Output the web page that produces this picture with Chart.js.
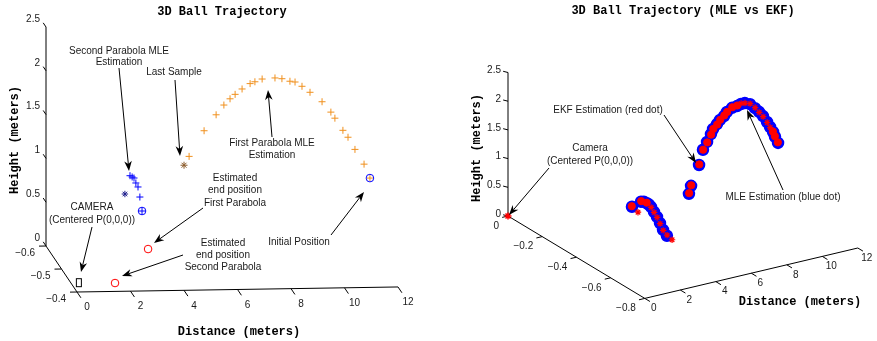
<!DOCTYPE html>
<html><head><meta charset="utf-8">
<script src="https://cdn.jsdelivr.net/npm/chart.js@4.4.0/dist/chart.umd.min.js"></script>
<style>html,body{margin:0;padding:0;background:#fff;overflow:hidden}#wrap{position:relative;width:877px;height:341px}</style>
</head><body><div id="wrap"><canvas id="c" width="877" height="341"></canvas></div>
<script>
// ================= DATA (distance m, depth m, height m) =================
// ---- Left plot: 3D Ball Trajectory ----
const distanceTicks = [0, 2, 4, 6, 8, 10, 12];
const heightTicks = [0, 0.5, 1, 1.5, 2, 2.5];
const leftDepthTicks = [-0.6, -0.5, -0.4];
const rightDepthTicks = [0, -0.2, -0.4, -0.6, -0.8];

const parabolaDepth = -0.55;
const firstParabolaDist   = [5.06,5.62,6.07,6.36,6.59,6.78,7.04,7.34,7.52,7.79,8.27,8.53,8.83,9.02,9.28,9.58,10.03,10.36,10.51,10.81,11.0,11.26,11.6];
const firstParabolaHeight = [1.13,1.42,1.60,1.71,1.78,1.83,1.89,1.95,1.97,2.00,2.01,2.00,1.97,1.96,1.91,1.84,1.73,1.61,1.54,1.40,1.32,1.18,1.01];
const initialDist = [11.82], initialHeight = [0.85];
const lastSampleDist = [4.87], lastSampleHeight = [1.03];
const secondParabolaDist   = [2.85,2.93,3.00,3.07,3.15,3.22];
const secondParabolaHeight = [0.92,0.905,0.893,0.836,0.79,0.675];
const secondStarDist = [2.66], secondStarHeight = [0.712];
const secondStartDist = [3.30], secondStartHeight = [0.515];
const endPosDist   = [3.70, 1.63];
const endPosDepth  = [-0.58, -0.436];
const endPosHeight = [0, 0];
const cameraLeft = {d: 0.30, p: -0.44, h: 0};

// ---- Right plot: MLE vs EKF ----
const trackDepth = -0.4;
const mleDist   = [6.91,7.13,7.36,7.58,7.70,7.92,8.09,8.32,8.48,8.77,9.05,9.27,9.49,9.78,10.06,10.29,10.51,10.74,10.91,11.08,11.19,11.36,6.46,6.34,3.13,3.64,3.80,3.97,4.08,4.20,4.37,4.54,4.71,4.88,5.10];
const mleHeight = [1.10,1.35,1.47,1.59,1.67,1.74,1.80,1.85,1.91,1.96,1.97,1.99,1.99,1.95,1.86,1.78,1.69,1.57,1.47,1.37,1.28,1.16,0.77,0.64,0.65,0.70,0.69,0.65,0.62,0.57,0.47,0.37,0.25,0.12,0.00];
const ekfDotDist   = [6.92,7.14,7.37,7.59,7.71,7.93,8.10,8.33,8.49,8.78,9.06,11.07,11.18,11.35,6.47,6.35,3.12,3.65,3.96];
const ekfDotHeight = [1.11,1.35,1.46,1.58,1.67,1.73,1.80,1.86,1.91,1.97,1.98,1.38,1.29,1.17,0.78,0.65,0.66,0.71,0.66];
const ekfStarDist   = [9.28,9.50,9.79,10.07,10.30,10.52,10.75,10.92,4.21,4.38,4.55,4.72,4.89,5.11,3.47,5.39];
const ekfStarHeight = [2.00,1.99,1.96,1.87,1.77,1.68,1.56,1.46,0.56,0.46,0.36,0.24,0.11,0.01,0.53,-0.09];
const cameraRight = {d: 0, p: 0, h: 0};

// ================= LAYOUT (projection geometry) =================
const W = 877, H = 341;
const L = {origin:[46,246], ed:[26.75,-0.42], ep:[155,230], eh:[0,-87.6], depth0:-0.6,
           dRange:[0,12], pRange:[-0.6,-0.4], hRange:[0,2.5]};
const R = {origin:[508,216], ed:[17.75,-4.2], ep:[-171,-103], eh:[0,-57.4], depth0:0,
           dRange:[0,12], pRange:[-0.8,0], hRange:[0,2.5]};
function proj(ax, d, p, h) {
  const q = p - ax.depth0;
  return {x: ax.origin[0] + d*ax.ed[0] + q*ax.ep[0] + h*ax.eh[0],
          y: ax.origin[1] + d*ax.ed[1] + q*ax.ep[1] + h*ax.eh[1]};
}
function series(ax, dists, depth, heights) {
  return dists.map((d, i) => proj(ax, d, Array.isArray(depth) ? depth[i] : depth, heights[i]));
}

const camImg = document.createElement('canvas');
camImg.width = 8; camImg.height = 11;
(function(){ const g = camImg.getContext('2d'); g.strokeStyle = '#000'; g.lineWidth = 1; g.strokeRect(1.5, 1.5, 5, 8); })();

const ORANGE = '#f0901e', BLUE = '#0000ff', RED = '#ff0000';
function ds(data, style, color, radius, extra) {
  return Object.assign({data, showLine:false, pointStyle:style, pointRadius:radius,
    borderColor:color, backgroundColor:'rgba(0,0,0,0)', pointBorderWidth:1, borderWidth:1}, extra||{});
}

const datasets = [
  // left
  ds(series(L, firstParabolaDist, parabolaDepth, firstParabolaHeight), 'cross', ORANGE, 3.5, {order:3}),
  ds(series(L, initialDist, parabolaDepth, initialHeight), 'cross', ORANGE, 3, {order:2}),
  ds(series(L, initialDist, parabolaDepth, initialHeight), 'circle', BLUE, 3.8, {order:3}),
  ds(series(L, lastSampleDist, parabolaDepth, lastSampleHeight), 'star', '#8a5a2a', 3.5, {order:3}),
  ds(series(L, secondParabolaDist, parabolaDepth, secondParabolaHeight), 'cross', BLUE, 3.5, {order:3}),
  ds(series(L, secondStarDist, parabolaDepth, secondStarHeight), 'star', '#1a1a8a', 3.2, {order:3}),
  ds(series(L, secondStartDist, parabolaDepth, secondStartHeight), 'circle', BLUE, 3.8, {order:3}),
  ds(series(L, secondStartDist, parabolaDepth, secondStartHeight), 'cross', BLUE, 3.5, {order:3}),
  ds(series(L, endPosDist, endPosDepth, endPosHeight), 'circle', RED, 3.8, {order:3}),
  ds([proj(L, cameraLeft.d, cameraLeft.p, cameraLeft.h)], camImg, '#000', 5, {order:3}),
  // right
  ds(series(R, mleDist, trackDepth, mleHeight), 'circle', BLUE, 5.5, {order:5, backgroundColor:BLUE, pointBorderWidth:1.5}),
  ds(series(R, ekfDotDist, trackDepth, ekfDotHeight), 'circle', RED, 3.6, {order:1, backgroundColor:RED}),
  ds(series(R, ekfStarDist, trackDepth, ekfStarHeight), 'star', RED, 3.2, {order:1, pointBorderWidth:1.2}),
  ds([proj(R, cameraRight.d, cameraRight.p, cameraRight.h)], 'star', RED, 3.5, {order:1, pointBorderWidth:1.5}),
];

// ================= ANNOTATIONS =================
const SANS = '"Liberation Sans", Arial, Helvetica, sans-serif';
const MONO = '"Liberation Mono", "Courier New", monospace';
const notes = [
  {lines:['Second Parabola MLE','Estimation'], x:119, y:51, dy:11},
  {lines:['Last Sample'], x:174, y:72},
  {lines:['First Parabola MLE','Estimation'], x:272, y:143, dy:12},
  {lines:['Estimated','end position','First Parabola'], x:235, y:178, dy:12.4},
  {lines:['Estimated','end position','Second Parabola'], x:223, y:243, dy:12},
  {lines:['Initial Position'], x:299, y:242},
  {lines:['CAMERA','(Centered P(0,0,0))'], x:92, y:207, dy:13},
  {lines:['EKF Estimation (red dot)'], x:608, y:110},
  {lines:['Camera','(Centered P(0,0,0))'], x:590, y:148, dy:13},
  {lines:['MLE Estimation (blue dot)'], x:783, y:197},
];
const arrows = [
  [119,68,129,171],[175,80,180,156],[272,137,268,90],[203,208,154,243],
  [183,255,122,276],[331,235,364,192],[92,227,81,272],
  [664,115,696,163],[549,168,509,215],[783,190,747,110]
];

function unit(v){ const n = Math.hypot(v[0], v[1]); return [v[0]/n, v[1]/n]; }
function fmt(v){ const s = String(Math.abs(v)); return (v < 0 ? '\u2212' : '') + s; }

function drawAxes3D(ctx, px, ax, cfg) {
  ctx.save();
  ctx.strokeStyle = '#000'; ctx.lineWidth = 1;
  const line = (a, b) => { ctx.beginPath(); ctx.moveTo(a.x, a.y); ctx.lineTo(b.x, b.y); ctx.stroke(); };
  const hp = cfg.hAxisDepth, dp = cfg.dAxisDepth;
  line(px(proj(ax, 0, hp, ax.hRange[0])), px(proj(ax, 0, hp, ax.hRange[1])));
  line(px(proj(ax, 0, ax.pRange[0], 0)), px(proj(ax, 0, ax.pRange[1], 0)));
  line(px(proj(ax, ax.dRange[0], dp, 0)), px(proj(ax, ax.dRange[1], dp, 0)));
  ctx.fillStyle = '#1a1a1a';
  ctx.font = '10px ' + SANS;
  ctx.textBaseline = 'middle';
  const td = unit(cfg.dTickDir);
  distanceTicks.forEach(v => {
    const b = px(proj(ax, v, dp, 0));
    line(b, {x: b.x + td[0]*cfg.dTickLen, y: b.y + td[1]*cfg.dTickLen});
    ctx.textAlign = 'center';
    ctx.fillText(String(v), b.x + cfg.dLab[0], b.y + cfg.dLab[1]);
  });
  const tp = unit(cfg.pTickDir);
  cfg.pTicks.forEach(v => {
    const b = px(proj(ax, 0, v, 0));
    line(b, {x: b.x + tp[0]*cfg.pTickLen, y: b.y + tp[1]*cfg.pTickLen});
    ctx.textAlign = 'right';
    ctx.fillText(fmt(v), b.x + cfg.pLab[0], b.y + cfg.pLab[1]);
  });
  const th = unit(cfg.hTickDir);
  heightTicks.forEach(v => {
    const b = px(proj(ax, 0, hp, v));
    line(b, {x: b.x + th[0]*cfg.hTickLen, y: b.y + th[1]*cfg.hTickLen});
    ctx.textAlign = 'right';
    ctx.fillText(String(v), b.x + cfg.hLab[0], b.y + cfg.hLab[1]);
  });
  ctx.restore();
}

function drawArrow(ctx, x1, y1, x2, y2) {
  const a = Math.atan2(y2 - y1, x2 - x1);
  const len = 10, hw = 3.8, back = 7;
  const ux = Math.cos(a), uy = Math.sin(a);
  ctx.beginPath(); ctx.moveTo(x1, y1); ctx.lineTo(x2 - ux*back, y2 - uy*back); ctx.stroke();
  ctx.beginPath();
  ctx.moveTo(x2, y2);
  ctx.lineTo(x2 - ux*len - uy*hw, y2 - uy*len + ux*hw);
  ctx.lineTo(x2 - ux*back, y2 - uy*back);
  ctx.lineTo(x2 - ux*len + uy*hw, y2 - uy*len - ux*hw);
  ctx.closePath(); ctx.fill();
}

const decor = {
  id: 'decor',
  beforeDatasetsDraw(chart) {
    const ctx = chart.ctx, xs = chart.scales.x, ys = chart.scales.y;
    const px = p => ({x: xs.getPixelForValue(p.x), y: ys.getPixelForValue(p.y)});
    drawAxes3D(ctx, px, L, {hAxisDepth:-0.6, dAxisDepth:-0.4, pTicks:leftDepthTicks,
      dTickDir:L.ep, dTickLen:7, dLab:[10,15.5],
      pTickDir:[-L.ed[0],-L.ed[1]], pTickLen:7, pLab:[-11,7],
      hTickDir:[-L.ep[0],-L.ep[1]], hTickLen:5, hLab:[-6,-8]});
    drawAxes3D(ctx, px, R, {hAxisDepth:0, dAxisDepth:-0.8, pTicks:rightDepthTicks,
      dTickDir:[-R.ep[0],-R.ep[1]], dTickLen:6, dLab:[9,10],
      pTickDir:[-R.ed[0],-R.ed[1]], pTickLen:6, pLab:[-9,10],
      hTickDir:[-1,-0.25], hTickLen:5, hLab:[-7,-2]});
  },
  afterDatasetsDraw(chart) {
    const ctx = chart.ctx;
    ctx.save();
    ctx.fillStyle = '#000';
    ctx.textAlign = 'center'; ctx.textBaseline = 'middle';
    ctx.font = 'bold 12px ' + MONO;
    ctx.fillText('3D Ball Trajectory', 222, 12);
    ctx.fillText('3D Ball Trajectory (MLE vs EKF)', 683, 11);
    ctx.fillText('Distance (meters)', 239, 332);
    ctx.fillText('Distance (meters)', 800, 302);
    [[15,140],[477,148]].forEach(([x,y]) => {
      ctx.save(); ctx.translate(x, y); ctx.rotate(-Math.PI/2);
      ctx.fillText('Height (meters)', 0, 0); ctx.restore();
    });
    ctx.font = '10px ' + SANS;
    ctx.fillStyle = '#1a1a1a';
    notes.forEach(n => n.lines.forEach((t, i) => ctx.fillText(t, n.x, n.y + i*(n.dy||12))));
    ctx.strokeStyle = '#000'; ctx.fillStyle = '#000'; ctx.lineWidth = 1;
    arrows.forEach(a => drawArrow(ctx, a[0], a[1], a[2], a[3]));
    ctx.restore();
  }
};

new Chart(document.getElementById('c'), {
  type: 'scatter',
  data: {datasets},
  options: {
    responsive: false, animation: false, devicePixelRatio: 1,
    layout: {padding: 0, autoPadding: false},
    plugins: {legend: {display:false}, tooltip: {enabled:false}, title: {display:false}},
    scales: {
      x: {type:'linear', min:0, max:W, display:false},
      y: {type:'linear', min:0, max:H, reverse:true, display:false}
    },
    elements: {point: {hoverRadius: 0}}
  },
  plugins: [decor]
});
</script></body></html>
